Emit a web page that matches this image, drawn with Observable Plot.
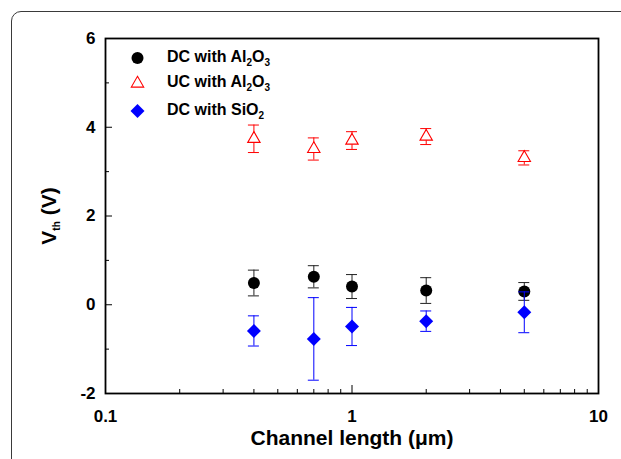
<!DOCTYPE html>
<html><head><meta charset="utf-8">
<script src="https://cdn.jsdelivr.net/npm/d3@7"></script>
<script src="https://cdn.jsdelivr.net/npm/@observablehq/plot@0.6"></script>
<style>
html,body{margin:0;padding:0;background:#fff;overflow:hidden}
#wrap{position:relative;width:621px;height:459px;overflow:hidden;background:#fff}
#border{position:absolute;left:11px;top:11px;width:660px;height:500px;border:1.5px solid #3a3a3a;border-radius:10px;box-sizing:border-box}
#chart{position:absolute;left:0;top:0}
</style></head><body>
<div id="wrap"><div id="border"></div><div id="chart"></div></div>
<script>
// Channel lengths (µm)
const lengths = [0.4, 0.7, 1, 2, 5];
// Series: threshold voltage (V) and error half-widths
const dcAl2O3 = [0.49, 0.63, 0.41, 0.32, 0.30];
const dcAl2O3Err = [0.29, 0.25, 0.27, 0.29, 0.20];
const ucAl2O3 = [3.74, 3.51, 3.70, 3.79, 3.31];
const ucAl2O3Err = [0.31, 0.25, 0.20, 0.18, 0.16];
const dcSiO2 = [-0.59, -0.77, -0.49, -0.37, -0.17];
const dcSiO2Err = [0.34, 0.93, 0.43, 0.23, 0.46];
const seriesNames = ["DC with Al_{2}O_{3}", "UC with Al_{2}O_{3}", "DC with SiO_{2}"];
const xMajorTicks = [0.1, 1, 10];
const xMinorTicks = [0.2, 0.3, 0.4, 0.5, 0.6, 0.7, 0.8, 0.9, 2, 3, 4, 5, 6, 7, 8, 9];
const yMajorTicks = [-2, 0, 2, 4, 6];
const yMinorTicks = [-1, 1, 3, 5];
const xTitle = "Channel length (μm)";
const yTitle = "V_{th} (V)";

const rows = (vals, errs) => lengths.map((x, i) => ({x, y: vals[i], lo: vals[i] - errs[i], hi: vals[i] + errs[i]}));
const dcA = rows(dcAl2O3, dcAl2O3Err);
const ucA = rows(ucAl2O3, ucAl2O3Err);
const dcS = rows(dcSiO2, dcSiO2Err);

function errorBars(data, color) {
  return [
    Plot.ruleX(data, {x: "x", y1: "lo", y2: "hi", stroke: color, strokeWidth: 1}),
    Plot.ruleY(data, {y: "hi", x1: "x", x2: "x", insetLeft: -5.5, insetRight: -5.5, stroke: color, strokeWidth: 1}),
    Plot.ruleY(data, {y: "lo", x1: "x", x2: "x", insetLeft: -5.5, insetRight: -5.5, stroke: color, strokeWidth: 1})
  ];
}

const blank = () => "";
const legendText = (name, dy) => Plot.text([name], {frameAnchor: "top-left", dx: 61.5, dy, text: d => d, textAnchor: "start", lineAnchor: "middle", fontSize: 16});
const chart = Plot.plot({
  width: 621,
  height: 459,
  marginLeft: 105,
  marginRight: 23,
  marginTop: 38,
  marginBottom: 66,
  style: {fontFamily: "'Liberation Sans', Arial, sans-serif", fontWeight: "bold", fontSize: "17px", color: "black", background: "transparent"},
  x: {type: "log", domain: [0.1, 10]},
  y: {domain: [-2, 6]},
  marks: [
    Plot.axisX(xMinorTicks, {tickSize: -4, tickFormat: blank, label: null, stroke: "black"}),
    Plot.axisX(xMajorTicks, {tickSize: -8, tickFormat: blank, label: null, stroke: "black"}),
    Plot.axisX(xMajorTicks, {tickSize: 0, tickPadding: 16, tickFormat: d => String(d), label: null, fontSize: 17}),
    Plot.axisY(yMinorTicks, {tickSize: -4, tickFormat: blank, label: null, stroke: "black"}),
    Plot.axisY(yMajorTicks, {tickSize: -7, tickFormat: blank, label: null, stroke: "black"}),
    Plot.axisY(yMajorTicks, {tickSize: 0, tickPadding: 10, tickFormat: d => String(d), label: null, fontSize: 17}),
    Plot.frame({stroke: "black", strokeWidth: 1.8}),
    ...errorBars(dcA, "#222"),
    Plot.dot(dcA, {x: "x", y: "y", symbol: "circle", r: 6, fill: "black", stroke: "none"}),
    ...errorBars(ucA, "#ff0000"),
    Plot.dot(ucA, {x: "x", y: "y", symbol: "triangle", r: 4.6, fill: "white", stroke: "#ff0000", strokeWidth: 1.1}),
    ...errorBars(dcS, "#0000ff"),
    Plot.dot(dcS, {x: "x", y: "y", symbol: "diamond2", r: 6.3, fill: "#0000ff", stroke: "none"}),
    // legend
    Plot.dot([seriesNames[0]], {frameAnchor: "top-left", dx: 32, dy: 19.5, symbol: "circle", r: 6, fill: "black", stroke: "none"}),
    Plot.dot([seriesNames[1]], {frameAnchor: "top-left", dx: 32, dy: 45, symbol: "triangle", r: 4.6, fill: "white", stroke: "#ff0000", strokeWidth: 1.1}),
    Plot.dot([seriesNames[2]], {frameAnchor: "top-left", dx: 32, dy: 72.5, symbol: "diamond2", r: 6.3, fill: "#0000ff", stroke: "none"}),
    legendText(seriesNames[0], 18),
    legendText(seriesNames[1], 43.5),
    legendText(seriesNames[2], 71),
    // axis titles
    Plot.text([xTitle], {frameAnchor: "bottom", dy: 45, text: d => d, textAnchor: "middle", lineAnchor: "middle", fontSize: 21}),
    Plot.text([yTitle], {frameAnchor: "left", dx: -56, rotate: -90, text: d => d, textAnchor: "middle", lineAnchor: "middle", fontSize: 21})
  ]
});

// render subscripts written as _{...}
chart.querySelectorAll("text").forEach(t => {
  const s = t.textContent;
  if (!s.includes("_{")) return;
  const fs = parseFloat(t.getAttribute("font-size") || getComputedStyle(t).fontSize) || 14;
  const subSize = Math.round(fs * 0.68);
  const shift = fs * 0.3;
  t.textContent = "";
  const parts = s.split(/(_\{[^}]*\})/).filter(p => p.length);
  let down = false;
  for (const p of parts) {
    const ts = document.createElementNS("http://www.w3.org/2000/svg", "tspan");
    if (p.startsWith("_{")) {
      ts.textContent = p.slice(2, -1);
      ts.setAttribute("font-size", subSize);
      if (!down) { ts.setAttribute("dy", shift); down = true; }
    } else {
      ts.textContent = p;
      if (down) { ts.setAttribute("dy", -shift); down = false; }
    }
    t.appendChild(ts);
  }
});

document.getElementById("chart").appendChild(chart);
</script>
</body></html>
